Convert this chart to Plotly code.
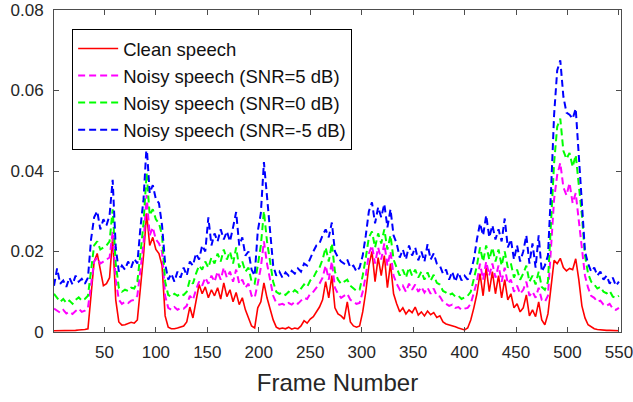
import plotly.graph_objects as go

frames = list(range(1, 551, 3))

clean = [
    0.0003,0.0003,0.0003,0.0003,0.0003,0.0004,0.0004,0.0004,0.0005,0.0005,
    0.0006,0.0008,0.0100,0.0175,0.0195,0.0150,0.0115,0.0120,0.0135,0.0235,
    0.0080,0.0025,0.0017,0.0018,0.0022,0.0024,0.0022,0.0030,0.0110,0.0190,
    0.0295,0.0215,0.0235,0.0205,0.0195,0.0165,0.0040,0.0012,0.0008,0.0008,
    0.0010,0.0012,0.0015,0.0025,0.0062,0.0035,0.0075,0.0118,0.0095,0.0112,
    0.0085,0.0105,0.0090,0.0110,0.0082,0.0122,0.0088,0.0105,0.0075,0.0098,
    0.0068,0.0085,0.0055,0.0035,0.0015,0.0010,0.0060,0.0075,0.0122,0.0085,
    0.0060,0.0030,0.0012,0.0008,0.0010,0.0008,0.0012,0.0007,0.0010,0.0008,
    0.0015,0.0028,0.0022,0.0032,0.0038,0.0050,0.0062,0.0080,0.0125,0.0085,
    0.0140,0.0060,0.0045,0.0040,0.0032,0.0075,0.0025,0.0015,0.0012,0.0015,
    0.0050,0.0100,0.0165,0.0200,0.0125,0.0185,0.0140,0.0190,0.0110,0.0170,
    0.0095,0.0070,0.0050,0.0060,0.0045,0.0055,0.0048,0.0062,0.0042,0.0050,
    0.0040,0.0052,0.0043,0.0048,0.0036,0.0040,0.0025,0.0020,0.0018,0.0015,
    0.0013,0.0010,0.0008,0.0005,0.0010,0.0030,0.0060,0.0095,0.0145,0.0090,
    0.0160,0.0100,0.0150,0.0095,0.0140,0.0085,0.0130,0.0080,0.0095,0.0060,
    0.0070,0.0050,0.0060,0.0092,0.0040,0.0055,0.0038,0.0075,0.0030,0.0018,
    0.0045,0.0120,0.0178,0.0170,0.0183,0.0160,0.0152,0.0158,0.0155,0.0182,
    0.0130,0.0065,0.0035,0.0018,0.0012,0.0008,0.0006,0.0005,0.0005,0.0004,
    0.0004,0.0004,0.0003,0.0003,
]

snr5 = [
    0.0058,0.0052,0.0048,0.0055,0.0046,0.0050,0.0045,0.0052,0.0058,0.0050,
    0.0053,0.0060,0.0120,0.0175,0.0185,0.0170,0.0175,0.0180,0.0185,0.0250,
    0.0130,0.0080,0.0070,0.0075,0.0072,0.0078,0.0080,0.0090,0.0150,0.0220,
    0.0340,0.0240,0.0260,0.0230,0.0220,0.0200,0.0090,0.0060,0.0055,0.0062,
    0.0055,0.0060,0.0058,0.0065,0.0090,0.0080,0.0105,0.0125,0.0115,0.0135,
    0.0120,0.0140,0.0125,0.0150,0.0130,0.0160,0.0135,0.0150,0.0125,0.0155,
    0.0120,0.0130,0.0110,0.0120,0.0090,0.0085,0.0120,0.0160,0.0225,0.0170,
    0.0130,0.0090,0.0072,0.0068,0.0070,0.0066,0.0072,0.0068,0.0075,0.0070,
    0.0078,0.0085,0.0082,0.0095,0.0100,0.0110,0.0120,0.0135,0.0165,0.0130,
    0.0175,0.0110,0.0095,0.0085,0.0090,0.0095,0.0080,0.0075,0.0070,0.0072,
    0.0100,0.0140,0.0195,0.0215,0.0170,0.0210,0.0180,0.0220,0.0165,0.0200,
    0.0140,0.0120,0.0105,0.0115,0.0100,0.0120,0.0105,0.0118,0.0100,0.0112,
    0.0098,0.0110,0.0095,0.0108,0.0090,0.0088,0.0075,0.0070,0.0065,0.0068,
    0.0060,0.0062,0.0055,0.0058,0.0060,0.0070,0.0095,0.0125,0.0170,0.0130,
    0.0175,0.0140,0.0170,0.0135,0.0165,0.0125,0.0160,0.0120,0.0130,0.0100,
    0.0115,0.0095,0.0105,0.0125,0.0090,0.0100,0.0085,0.0110,0.0080,0.0075,
    0.0090,0.0200,0.0330,0.0390,0.0420,0.0360,0.0340,0.0370,0.0320,0.0345,
    0.0280,0.0220,0.0140,0.0110,0.0090,0.0085,0.0075,0.0078,0.0068,0.0065,
    0.0070,0.0058,0.0055,0.0060,
]

snr0 = [
    0.0095,0.0085,0.0075,0.0082,0.0072,0.0078,0.0070,0.0080,0.0086,0.0078,
    0.0082,0.0090,0.0160,0.0215,0.0225,0.0205,0.0210,0.0215,0.0225,0.0305,
    0.0170,0.0110,0.0100,0.0105,0.0102,0.0110,0.0108,0.0125,0.0195,0.0270,
    0.0395,0.0290,0.0305,0.0280,0.0270,0.0240,0.0125,0.0092,0.0088,0.0095,
    0.0090,0.0096,0.0092,0.0100,0.0130,0.0120,0.0145,0.0165,0.0155,0.0175,
    0.0160,0.0185,0.0170,0.0195,0.0175,0.0205,0.0180,0.0200,0.0170,0.0210,
    0.0160,0.0175,0.0150,0.0160,0.0125,0.0120,0.0165,0.0215,0.0300,0.0225,
    0.0175,0.0125,0.0100,0.0095,0.0098,0.0092,0.0100,0.0096,0.0104,0.0098,
    0.0108,0.0118,0.0112,0.0128,0.0135,0.0150,0.0160,0.0180,0.0210,0.0175,
    0.0220,0.0150,0.0130,0.0120,0.0125,0.0130,0.0115,0.0108,0.0102,0.0105,
    0.0140,0.0185,0.0235,0.0250,0.0210,0.0245,0.0220,0.0255,0.0205,0.0240,
    0.0180,0.0160,0.0140,0.0155,0.0135,0.0160,0.0140,0.0155,0.0135,0.0150,
    0.0130,0.0148,0.0128,0.0142,0.0122,0.0118,0.0102,0.0098,0.0092,0.0096,
    0.0088,0.0090,0.0082,0.0086,0.0090,0.0100,0.0130,0.0165,0.0210,0.0175,
    0.0215,0.0180,0.0210,0.0175,0.0205,0.0165,0.0200,0.0160,0.0170,0.0135,
    0.0155,0.0130,0.0145,0.0165,0.0125,0.0140,0.0118,0.0150,0.0112,0.0105,
    0.0125,0.0260,0.0420,0.0510,0.0530,0.0450,0.0430,0.0445,0.0410,0.0440,
    0.0370,0.0290,0.0190,0.0145,0.0125,0.0118,0.0108,0.0112,0.0100,0.0096,
    0.0102,0.0088,0.0085,0.0090,
]

snr_m5 = [
    0.0115,0.0158,0.0120,0.0128,0.0112,0.0135,0.0118,0.0140,0.0125,0.0132,
    0.0120,0.0135,0.0230,0.0285,0.0300,0.0255,0.0280,0.0265,0.0290,0.0378,
    0.0210,0.0150,0.0165,0.0155,0.0175,0.0160,0.0182,0.0170,0.0260,0.0330,
    0.0465,0.0345,0.0365,0.0330,0.0320,0.0265,0.0170,0.0130,0.0145,0.0125,
    0.0150,0.0135,0.0160,0.0140,0.0175,0.0165,0.0195,0.0180,0.0215,0.0200,
    0.0285,0.0215,0.0245,0.0225,0.0255,0.0230,0.0250,0.0225,0.0260,0.0298,
    0.0215,0.0235,0.0190,0.0200,0.0155,0.0140,0.0250,0.0295,0.0422,0.0330,
    0.0240,0.0165,0.0140,0.0150,0.0135,0.0148,0.0140,0.0152,0.0145,0.0158,
    0.0150,0.0170,0.0165,0.0185,0.0200,0.0215,0.0220,0.0240,0.0255,0.0235,
    0.0272,0.0200,0.0185,0.0175,0.0170,0.0180,0.0160,0.0165,0.0150,0.0160,
    0.0190,0.0240,0.0300,0.0322,0.0270,0.0310,0.0285,0.0318,0.0260,0.0305,
    0.0240,0.0220,0.0185,0.0205,0.0180,0.0215,0.0190,0.0210,0.0178,0.0200,
    0.0175,0.0218,0.0180,0.0195,0.0170,0.0165,0.0145,0.0155,0.0130,0.0150,
    0.0125,0.0148,0.0128,0.0140,0.0130,0.0150,0.0180,0.0230,0.0270,0.0240,
    0.0290,0.0235,0.0265,0.0230,0.0255,0.0225,0.0282,0.0210,0.0230,0.0180,
    0.0215,0.0175,0.0200,0.0240,0.0170,0.0220,0.0160,0.0240,0.0150,0.0165,
    0.0190,0.0350,0.0540,0.0650,0.0675,0.0585,0.0545,0.0540,0.0530,0.0555,
    0.0450,0.0320,0.0200,0.0170,0.0150,0.0160,0.0140,0.0150,0.0130,0.0140,
    0.0120,0.0135,0.0115,0.0125,
]

series_names = ["Clean speech", "Noisy speech (SNR=5 dB)",
                "Noisy speech (SNR=0 dB)", "Noisy speech (SNR=-5 dB)"]
x_tick_vals = [50, 100, 150, 200, 250, 300, 350, 400, 450, 500, 550]
y_tick_vals = [0, 0.02, 0.04, 0.06, 0.08]
y_tick_text = ["0", "0.02", "0.04", "0.06", "0.08"]

assert len(clean) == len(snr5) == len(snr0) == len(snr_m5) == len(frames)

styles = [
    dict(color="#ff0000", width=1.6, dash="solid"),
    dict(color="#ff00ff", width=2, dash="7px,4px"),
    dict(color="#00ff00", width=2, dash="7px,4px"),
    dict(color="#0000ff", width=2, dash="7px,4px"),
]

fig = go.Figure()
for i, (name, ys) in enumerate(zip(series_names, [clean, snr5, snr0, snr_m5])):
    fig.add_trace(go.Scatter(x=frames, y=ys, mode="lines", name=name,
                             line=styles[i]))

axis_color = "#4d4d4d"
font_family = "Liberation Sans, Arial, sans-serif"

fig.update_layout(
    width=633, height=402,
    margin=dict(l=54, r=12, t=10, b=70),
    paper_bgcolor="white", plot_bgcolor="white",
    font=dict(family=font_family, color="#262626", size=16),
    showlegend=True,
    legend=dict(
        x=0.032, y=0.941, xanchor="left", yanchor="top",
        bgcolor="white", bordercolor="#000000", borderwidth=1,
        font=dict(size=18.5, color="#111111", family=font_family),
        itemwidth=40,
    ),
)

fig.update_xaxes(
    range=[1, 552], tickvals=x_tick_vals, ticks="inside", ticklen=5,
    tickcolor=axis_color, showline=True, linecolor=axis_color, linewidth=1,
    mirror="ticks", showgrid=False, zeroline=False, automargin=False,
    ticklabeloverflow="allow",
    tickfont=dict(size=17, color="#262626"), ticklabelstandoff=5,
    title=dict(text="Frame Number", font=dict(size=24, color="#262626"), standoff=12),
)
fig.update_yaxes(
    range=[0, 0.08], tickvals=y_tick_vals, ticktext=y_tick_text,
    ticks="inside", ticklen=5, tickcolor=axis_color, showline=True,
    linecolor=axis_color, linewidth=1, mirror="ticks", showgrid=False,
    zeroline=False, automargin=False, ticklabeloverflow="allow",
    tickfont=dict(size=17, color="#262626"), ticklabelstandoff=6,
)

fig.write_html("out.html")
